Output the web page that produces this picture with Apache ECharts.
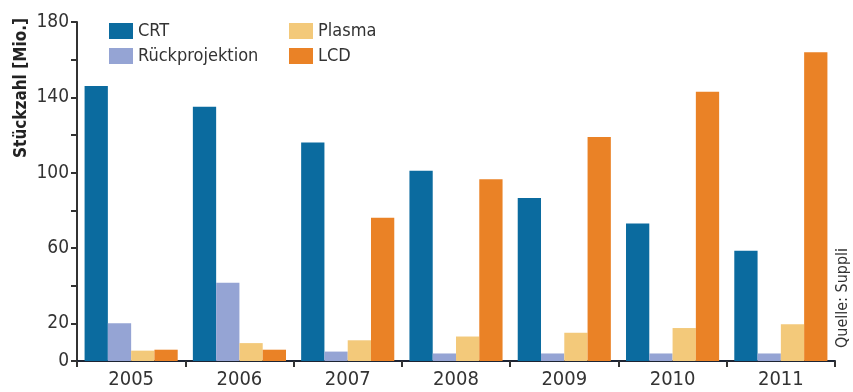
<!DOCTYPE html>
<html>
<head>
<meta charset="utf-8">
<script src="https://cdn.jsdelivr.net/npm/echarts@6/dist/echarts.min.js"></script>
<style>
  html, body { margin: 0; padding: 0; background: #fff; }
  #container { width: 853px; height: 392px; }
</style>
</head>
<body>
<div id="container"></div>
<script>
var jahre = ['2005', '2006', '2007', '2008', '2009', '2010', '2011'];
var crt = [146, 135, 116, 101, 86.5, 73, 58.5];
var rueckprojektion = [20, 41.5, 5, 4, 4, 4, 4];
var plasma = [5.5, 9.5, 11, 13, 15, 17.5, 19.5];
var lcd = [6, 6, 76, 96.5, 119, 143, 164];
var yLabels = [0, 20, 60, 100, 140, 180];

var font = "'Liberation Sans Narrow', 'DejaVu Sans Condensed', sans-serif";
var textColor = '#333';

var chart = echarts.init(document.getElementById('container'));

function bar(name, data, color) {
    return {
        name: name,
        type: 'bar',
        data: data,
        barGap: '0%',
        barCategoryGap: '14%',
        itemStyle: { color: color }
    };
}

var option = {
    animation: false,
    grid: { left: 77, right: 18, top: 22, bottom: 31, containLabel: false },
    legend: [
        {
            data: ['CRT', 'Rückprojektion'],
            orient: 'vertical',
            left: 104, top: 17,
            itemWidth: 24, itemHeight: 16, itemGap: 7,
            icon: 'rect',
            textStyle: { fontFamily: font, fontSize: 18, color: textColor }
        },
        {
            data: ['Plasma', 'LCD'],
            orient: 'vertical',
            left: 284, top: 17,
            itemWidth: 24, itemHeight: 16, itemGap: 7,
            icon: 'rect',
            textStyle: { fontFamily: font, fontSize: 18, color: textColor }
        }
    ],
    xAxis: {
        type: 'category',
        data: jahre,
        axisLine: { lineStyle: { color: '#1d2433', width: 2 } },
        axisTick: { show: true, length: 6, lineStyle: { color: '#333', width: 2 } },
        axisLabel: { fontFamily: font, fontSize: 20, color: textColor, margin: 9 }
    },
    yAxis: {
        type: 'value',
        min: 0, max: 180, interval: 20,
        splitLine: { show: false },
        axisLine: { show: true, lineStyle: { color: '#333', width: 2 } },
        axisTick: { show: true, length: 6, lineStyle: { color: '#333', width: 2 } },
        axisLabel: {
            fontFamily: font, fontSize: 19, color: textColor, margin: 8,
            formatter: function (v) { return yLabels.indexOf(v) >= 0 ? String(v) : ''; }
        }
    },
    graphic: [
        {
            type: 'text',
            x: 22, y: 88,
            rotation: Math.PI / 2,
            style: {
                text: 'Stückzahl [Mio.]',
                fontFamily: font, fontSize: 17, fontWeight: 'bold', fill: '#222',
                textAlign: 'center', textVerticalAlign: 'middle'
            }
        },
        {
            type: 'text',
            x: 843, y: 298,
            rotation: Math.PI / 2,
            style: {
                text: 'Quelle: Suppli',
                fontFamily: font, fontSize: 16, fill: textColor,
                textAlign: 'center', textVerticalAlign: 'middle'
            }
        }
    ],
    series: [
        bar('CRT', crt, '#0b6b9f'),
        bar('Rückprojektion', rueckprojektion, '#95a4d4'),
        bar('Plasma', plasma, '#f3c97a'),
        bar('LCD', lcd, '#ea8226')
    ]
};

chart.setOption(option);
</script>
</body>
</html>
